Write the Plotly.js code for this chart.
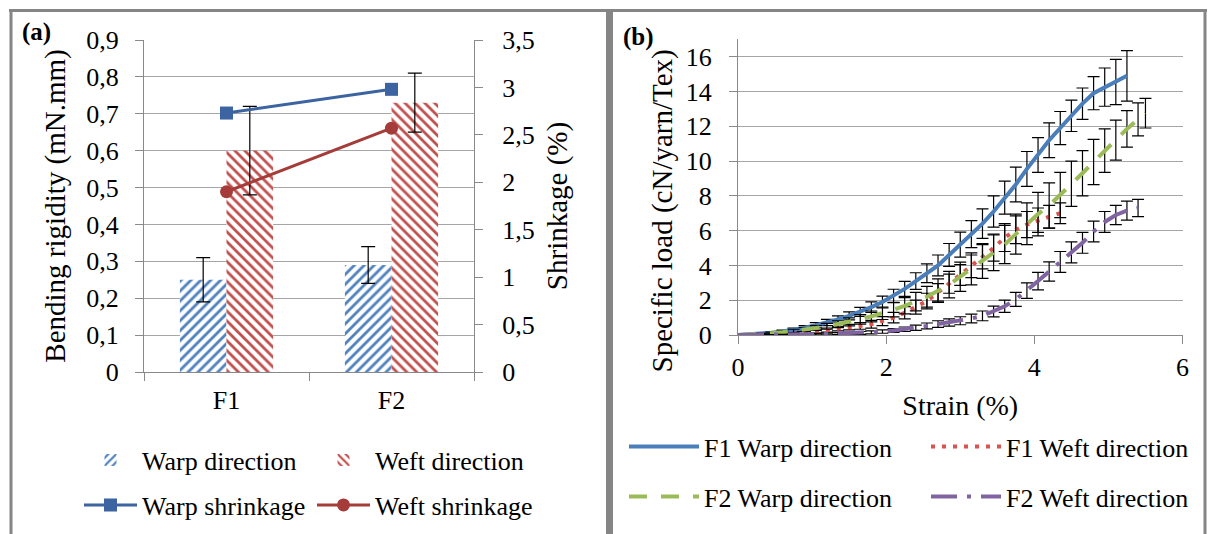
<!DOCTYPE html>
<html><head><meta charset="utf-8">
<script src="https://cdn.plot.ly/plotly-3.0.1.min.js"></script>
<style>html,body{margin:0;padding:0;background:#fff;overflow:hidden;width:1208px;height:534px}#chart{width:1208px;height:534px}</style>
</head><body><div id="chart"></div>
<script>
// ---------- Panel (a) data ----------
const fabrics = ['F1', 'F2'];
const warpBending = [0.25, 0.29];
const warpBendingErr = [0.06, 0.05];
const weftBending = [0.60, 0.73];
const weftBendingErr = [0.12, 0.08];
const warpShrinkage = [2.73, 2.98];
const weftShrinkage = [1.90, 2.57];
const bendingTicks = [0, 0.1, 0.2, 0.3, 0.4, 0.5, 0.6, 0.7, 0.8, 0.9];
const bendingLabels = ['0', '0,1', '0,2', '0,3', '0,4', '0,5', '0,6', '0,7', '0,8', '0,9'];
const shrinkTicks = [0, 0.5, 1, 1.5, 2, 2.5, 3, 3.5];
const shrinkLabels = ['0', '0,5', '1', '1,5', '2', '2,5', '3', '3,5'];

// ---------- Panel (b) data ----------
const strainTicks = [0, 2, 4, 6];
const loadTicks = [0, 2, 4, 6, 8, 10, 12, 14, 16];
const strainF1Warp = [0,0.15,0.3,0.45,0.6,0.75,0.9,1.05,1.2,1.35,1.5,1.65,1.8,1.95,2.1,2.25,2.4,2.55,2.7,2.85,3.0,3.15,3.3,3.45,3.6,3.75,3.9,4.05,4.2,4.35,4.5,4.65,4.8,4.95,5.1,5.25];
const loadF1Warp = [0,0.03,0.07,0.13,0.2,0.3,0.42,0.56,0.72,0.9,1.1,1.33,1.6,1.9,2.25,2.65,3.1,3.55,4.0,4.6,5.2,5.8,6.4,7.1,7.9,8.65,9.55,10.35,11.2,11.9,12.6,13.3,13.9,14.25,14.55,14.9];
const errF1Warp = [0,0.02,0.04,0.06,0.08,0.1,0.12,0.15,0.18,0.2,0.23,0.26,0.3,0.34,0.38,0.43,0.48,0.54,0.6,0.66,0.72,0.78,0.85,0.9,0.95,1.0,1.0,1.0,1.0,0.95,0.9,0.9,0.95,1.1,1.3,1.45];

const strainF1Weft = [0,0.15,0.3,0.45,0.6,0.75,0.9,1.05,1.2,1.35,1.5,1.65,1.8,1.95,2.1,2.25,2.4,2.55,2.7,2.85,3.0,3.15,3.3,3.45,3.6,3.75,3.9,4.05,4.2,4.35];
const loadF1Weft = [0,0.01,0.02,0.03,0.05,0.08,0.13,0.2,0.28,0.37,0.45,0.52,0.62,0.8,1.0,1.28,1.6,1.95,2.45,2.95,3.45,3.95,4.5,5.0,5.6,6.05,6.35,6.6,6.8,7.0];
const errF1Weft = [0,0.01,0.02,0.03,0.04,0.05,0.07,0.09,0.11,0.13,0.16,0.19,0.22,0.26,0.3,0.35,0.4,0.45,0.5,0.55,0.6,0.65,0.7,0.75,0.8,0.8,0.75,0.7,0.65,0.6];

const strainF2Warp = [0,0.15,0.3,0.45,0.6,0.75,0.9,1.05,1.2,1.35,1.5,1.65,1.8,1.95,2.1,2.25,2.4,2.55,2.7,2.85,3.0,3.15,3.3,3.45,3.6,3.75,3.9,4.05,4.2,4.35,4.5,4.65,4.8,4.95,5.1,5.25,5.4,5.5];
const loadF2Warp = [0,0.02,0.05,0.1,0.16,0.23,0.31,0.4,0.5,0.62,0.75,0.9,1.07,1.25,1.45,1.68,1.92,2.2,2.55,2.9,3.35,3.8,4.25,4.75,5.2,5.8,6.4,6.95,7.45,8.05,8.7,9.3,9.95,10.6,11.2,11.85,12.4,12.75];
const errF2Warp = [0,0.02,0.04,0.06,0.08,0.1,0.12,0.14,0.17,0.2,0.23,0.27,0.31,0.36,0.41,0.47,0.53,0.6,0.68,0.76,0.84,0.92,1.0,1.05,1.1,1.15,1.2,1.25,1.3,1.3,1.3,1.3,1.3,1.25,1.15,1.05,0.95,0.85];

const strainF2Weft = [0,0.15,0.3,0.45,0.6,0.75,0.9,1.05,1.2,1.35,1.5,1.65,1.8,1.95,2.1,2.25,2.4,2.55,2.7,2.85,3.0,3.15,3.3,3.45,3.6,3.75,3.9,4.05,4.2,4.35,4.5,4.65,4.8,4.95,5.1,5.25,5.4];
const loadF2Weft = [0,0,0.01,0.01,0.02,0.03,0.04,0.05,0.06,0.08,0.1,0.12,0.15,0.2,0.26,0.33,0.42,0.52,0.63,0.72,0.82,0.95,1.1,1.35,1.65,2.05,2.55,3.1,3.65,4.2,4.75,5.3,5.95,6.5,6.9,7.15,7.3];
const errF2Weft = [0,0,0.01,0.01,0.02,0.02,0.03,0.04,0.05,0.06,0.07,0.08,0.09,0.1,0.11,0.13,0.15,0.17,0.19,0.21,0.23,0.25,0.28,0.31,0.35,0.4,0.45,0.5,0.55,0.6,0.6,0.6,0.6,0.6,0.55,0.55,0.5];

const W = 1208, H = 534;
const FONT = 'Liberation Serif';
const AX = '#898989', GRID = '#a6a6a6';
const px = v => v / W, py = v => 1 - v / H;

const ebar = (arr, w) => ({type: 'data', array: arr, visible: true, color: '#000', thickness: 1.2, width: w});

const traces = [
  {type: 'bar', name: 'Warp direction', x: fabrics, y: warpBending, xaxis: 'x', yaxis: 'y',
   marker: {color: '#4f81bd', line: {width: 0}, pattern: {shape: '/', fillmode: 'replace', fgcolor: '#4f81bd', bgcolor: '#ffffff', size: 7, solidity: 0.4}},
   error_y: ebar(warpBendingErr, 7), legend: 'legend'},
  {type: 'bar', name: 'Weft direction', x: fabrics, y: weftBending, xaxis: 'x', yaxis: 'y',
   marker: {color: '#c0504d', line: {width: 0}, pattern: {shape: '\\', fillmode: 'replace', fgcolor: '#c0504d', bgcolor: '#ffffff', size: 7, solidity: 0.4}},
   error_y: ebar(weftBendingErr, 7), legend: 'legend2'},
  {type: 'scatter', mode: 'lines+markers', name: 'Warp shrinkage', x: fabrics, y: warpShrinkage, xaxis: 'x', yaxis: 'y2',
   line: {color: '#3b64a0', width: 3}, marker: {symbol: 'square', size: 13, color: '#3b64a0'}, legend: 'legend3'},
  {type: 'scatter', mode: 'lines+markers', name: 'Weft shrinkage', x: fabrics, y: weftShrinkage, xaxis: 'x', yaxis: 'y2',
   line: {color: '#a63c39', width: 3}, marker: {symbol: 'circle', size: 13, color: '#a63c39'}, legend: 'legend4'},

  {type: 'scatter', mode: 'lines', name: 'F1 Warp direction', x: strainF1Warp, y: loadF1Warp, xaxis: 'x2', yaxis: 'y3',
   line: {color: '#4a7ebb', width: 4}, error_y: ebar(errF1Warp, 6), legend: 'legend5'},
  {type: 'scatter', mode: 'lines', name: 'F1 Weft direction', x: strainF1Weft, y: loadF1Weft, xaxis: 'x2', yaxis: 'y3',
   line: {color: '#d9534f', width: 4, dash: '4px,7px'}, error_y: ebar(errF1Weft, 6), legend: 'legend6'},
  {type: 'scatter', mode: 'lines', name: 'F2 Warp direction', x: strainF2Warp, y: loadF2Warp, xaxis: 'x2', yaxis: 'y3',
   line: {color: '#9bbb59', width: 4, dash: '18px,14px'}, error_y: ebar(errF2Warp, 6), legend: 'legend7'},
  {type: 'scatter', mode: 'lines', name: 'F2 Weft direction', x: strainF2Weft, y: loadF2Weft, xaxis: 'x2', yaxis: 'y3',
   line: {color: '#8064a2', width: 4, dash: '26px,10px,4px,10px'}, error_y: ebar(errF2Weft, 6), legend: 'legend8'}
];

const tickFont = {family: FONT, size: 26, color: '#000'};
const titleFont = {family: FONT, size: 29, color: '#000'};
const leg = (x, y, iw) => ({x: px(x), y: py(y), xanchor: 'left', yanchor: 'middle', orientation: 'h', itemwidth: iw,
  font: {family: FONT, size: 26, color: '#000'}, bgcolor: 'rgba(0,0,0,0)', borderwidth: 0});

const hline = (x0, x1, y, w) => ({type: 'line', xref: 'paper', yref: 'paper', x0: px(x0), x1: px(x1), y0: py(y), y1: py(y), line: {color: '#858585', width: w}});
const vline = (x, y0, y1, w) => ({type: 'line', xref: 'paper', yref: 'paper', x0: px(x), x1: px(x), y0: py(y0), y1: py(y1), line: {color: '#858585', width: w}});

const layout = {
  width: W, height: H, margin: {l: 0, r: 0, t: 0, b: 0, autoexpand: false},
  paper_bgcolor: '#fff', plot_bgcolor: 'rgba(0,0,0,0)',
  font: {family: FONT, size: 26, color: '#000'},
  barmode: 'group', bargap: 0.435, bargroupgap: 0,
  showlegend: true, hovermode: false,
  xaxis: {domain: [px(144), px(474)], anchor: 'y', type: 'category', showline: true, linecolor: AX, linewidth: 1,
    ticks: 'outside', tickson: 'boundaries', ticklen: 8, tickcolor: AX, showgrid: false, tickfont: tickFont, ticklabelstandoff: 5},
  yaxis: {domain: [py(372), py(40)], anchor: 'x', range: [0, 0.9], tickvals: bendingTicks, ticktext: bendingLabels,
    showline: true, linecolor: AX, ticks: 'outside', ticklen: 8, tickcolor: AX, showgrid: true, gridcolor: GRID, gridwidth: 1,
    zeroline: false, tickfont: tickFont, ticklabelstandoff: 11,
    title: {text: 'Bending rigidity (mN.mm)', font: titleFont, standoff: 12}},
  yaxis2: {overlaying: 'y', side: 'right', anchor: 'x', range: [0, 3.5], tickvals: shrinkTicks, ticktext: shrinkLabels,
    showline: true, linecolor: AX, ticks: 'outside', ticklen: 8, tickcolor: AX, showgrid: false, zeroline: false,
    tickfont: tickFont, ticklabelstandoff: 14, title: {text: 'Shrinkage (%)', font: titleFont, standoff: 12}},
  xaxis2: {domain: [px(738), px(1182.5)], anchor: 'y3', range: [0, 6], tickvals: strainTicks,
    showline: true, linecolor: AX, ticks: 'outside', ticklen: 8, tickcolor: AX, showgrid: false, zeroline: false,
    tickfont: tickFont, ticklabelstandoff: 1, title: {text: 'Strain (%)', font: {family: FONT, size: 28, color: '#000'}, standoff: 14}},
  yaxis3: {domain: [py(335), py(39.3)], anchor: 'x2', range: [0, 17], tickvals: loadTicks,
    showline: true, linecolor: AX, ticks: 'outside', ticklen: 8, tickcolor: AX, showgrid: true, gridcolor: GRID, gridwidth: 1,
    zeroline: false, tickfont: tickFont, ticklabelstandoff: 12},
  legend: leg(79, 460, 53),
  legend2: leg(312, 460, 53),
  legend3: leg(79, 505, 53),
  legend4: leg(312, 505, 53),
  legend5: leg(624, 446.5, 70),
  legend6: leg(926, 446.5, 70),
  legend7: leg(624, 496.5, 70),
  legend8: leg(926, 496.5, 70),
  annotations: [
    {xref: 'paper', yref: 'paper', x: px(36), y: py(32), text: '<b>(a)</b>', showarrow: false, xanchor: 'center', yanchor: 'middle', font: {family: FONT, size: 25, color: '#000'}},
    {xref: 'paper', yref: 'paper', x: px(638), y: py(37), text: '<b>(b)</b>', showarrow: false, xanchor: 'center', yanchor: 'middle', font: {family: FONT, size: 25, color: '#000'}},
    {xref: 'paper', yref: 'paper', x: px(662), y: py(211.5), text: 'Specific load (cN/yarn/Tex)', textangle: -90, showarrow: false, xanchor: 'center', yanchor: 'middle', font: titleFont}
  ],
  shapes: [
    hline(9, 1207, 10.5, 3),
    vline(11, 9, 540, 3),
    vline(609.5, 9, 540, 7),
    vline(1205, 9, 540, 3)
  ]
};

Plotly.newPlot('chart', traces, layout, {staticPlot: true, displayModeBar: false});
</script></body></html>
